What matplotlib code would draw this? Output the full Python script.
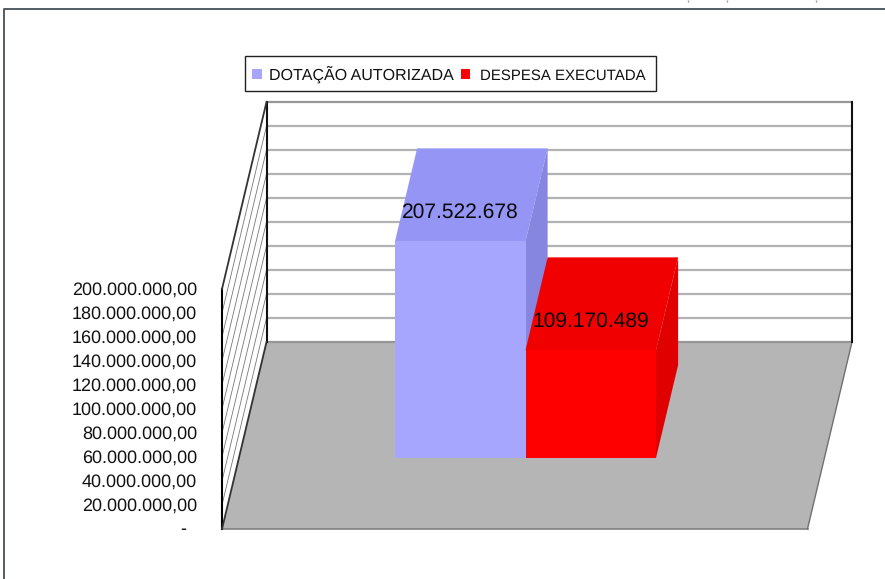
import matplotlib
matplotlib.use("Agg")
import matplotlib.pyplot as plt
from matplotlib.patches import Polygon, Rectangle

# ---- data ----
series_names = ["DOTAÇÃO AUTORIZADA", "DESPESA EXECUTADA"]
value_labels = ["207.522.678", "109.170.489"]
# drawn column heights, as read against the axis of the picture
drawn_values = [180.5e6, 89.7e6]
tick_values = [0, 20e6, 40e6, 60e6, 80e6, 100e6, 120e6, 140e6, 160e6, 180e6, 200e6]
tick_labels = ["-", "20.000.000,00", "40.000.000,00", "60.000.000,00", "80.000.000,00",
               "100.000.000,00", "120.000.000,00", "140.000.000,00", "160.000.000,00",
               "180.000.000,00", "200.000.000,00"]

# ---- colours ----
front = ["#a6a6ff", "#ff0000"]
top = ["#9595f5", "#f10000"]
side = ["#8686e0", "#e00000"]
floor_col = "#b5b5b5"
grid_col = "#b2b2b2"

plt.rcParams["font.family"] = ["Liberation Sans", "DejaVu Sans"]
plt.rcParams["text.hinting"] = "no_hinting"
plt.rcParams["text.hinting_factor"] = 1
fig = plt.figure(figsize=(8.85, 5.79), dpi=100, facecolor="white")
ax = fig.add_axes([0, 0, 1, 1])
ax.set_xlim(0, 885)
ax.set_ylim(579, 0)
ax.axis("off")

# ---- oblique projection: x = 0..1 across, d = 0..1 front to back ----
X0, Y0, W = 222, 529, 585.5
DX, DY = 44.5, 187
K = 240 / 200e6


def P(x, d, v=0.0):
    return (X0 + x * W + d * DX, Y0 - d * DY - v * K)


vmax = tick_values[-1]

# outer frame
ax.plot([3.5, 3.5, 885], [579, 9.0, 9.0], color="#46505a", lw=1.3, solid_capstyle="butt")

# clipped remains of text at the very top edge
for xm in (688, 727, 816):
    ax.plot([xm, xm], [0, 2], color="#999999", lw=1.0, solid_capstyle="butt")

# floor
ax.add_patch(Polygon([P(0, 0), P(1, 0), P(1, 1), P(0, 1)], fc=floor_col, ec="none", zorder=1))
ax.plot(*zip(P(0, 0), P(1, 0)), color="#808080", lw=1.2, zorder=2)
ax.plot(*zip(P(1, 0), P(1, 1)), color="#707070", lw=1.0, zorder=2)

# back wall gridlines and side wall lines
for v in tick_values:
    ax.plot(*zip(P(0, 1, v), P(1, 1, v)), color="#969696" if v in (0, vmax) else grid_col,
            lw=1.6, zorder=2, solid_capstyle="butt")
    if 0 < v < vmax:
        ax.plot(*zip(P(0, 0, v), P(0, 1, v)), color="#777777", lw=0.6, zorder=2)

# wall edges
ax.plot(*zip(P(0, 0), P(0, 0, vmax)), color="#000000", lw=1.5, zorder=3)
ax.plot(*zip(P(0, 1), P(0, 1, vmax)), color="#111111", lw=1.5, zorder=3)
ax.plot(*zip(P(1, 1), P(1, 1, vmax)), color="#111111", lw=1.5, zorder=3)
ax.plot(*zip(P(0, 0, vmax), P(0, 1, vmax)), color="#333333", lw=1.3, zorder=3)
ax.plot(*zip(P(0, 0), P(0, 1)), color="#333333", lw=1.3, zorder=3)

# columns: the later column is painted over the earlier one
D0, D1 = 0.38, 0.877
BAR_W = 130.5 / W
start = (395 - X0 - D0 * DX) / W
for i, val in enumerate(drawn_values):
    xa = start + i * BAR_W
    xb = xa + BAR_W
    z = 4 + i
    ax.add_patch(Polygon([P(xa, D0, val), P(xb, D0, val), P(xb, D1, val), P(xa, D1, val)],
                         fc=top[i], ec="none", zorder=z))
    ax.add_patch(Polygon([P(xb, D0), P(xb, D1), P(xb, D1, val), P(xb, D0, val)],
                         fc=side[i], ec="none", zorder=z + 0.1))
    ax.add_patch(Polygon([P(xa, D0), P(xb, D0), P(xb, D0, val), P(xa, D0, val)],
                         fc=front[i], ec="none", zorder=z + 0.2))
    # value label sits over the top face, slightly in front of its middle
    cx, cy = P((xa + xb) / 2, (D0 + D1) / 2 - 0.09, val)
    ax.text(cx - 7.5, cy + 0.5, value_labels[i], ha="center", va="center", fontsize=15.1,
            color="#0a0a0a", zorder=8)

# value axis labels
for v, lab in zip(tick_values, tick_labels):
    xp, yp = P(0, 0, v)
    tx = 186 if v == 0 else 197
    ax.text(tx, yp + 0.8, lab, ha="right", va="center", fontsize=13.2, color="#111111", zorder=8)

# legend
ax.add_patch(Rectangle((244.5, 56.0), 411.5, 35, fc="white", ec="#222222", lw=1.0, zorder=9))
leg_sw = [252, 460.5]
leg_tx = [269, 479.5]
leg_fs = [11.4, 11.15]
for i, name in enumerate(series_names):
    ax.add_patch(Rectangle((leg_sw[i], 69), 9.5, 10, fc=front[i], ec="none", zorder=10))
    ax.text(leg_tx[i], 79.5, name, ha="left", va="baseline", fontsize=leg_fs[i], color="#111111", zorder=10)

fig.savefig("out.png", dpi=100, facecolor="white")
